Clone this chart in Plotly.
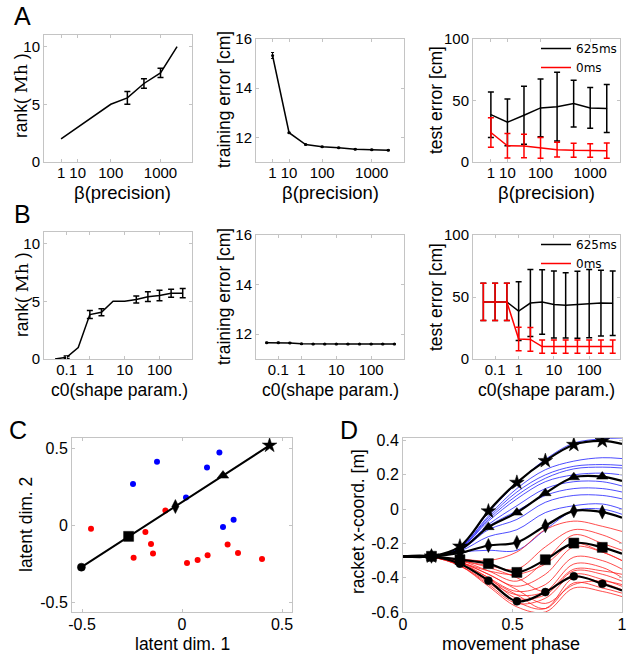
import plotly.graph_objects as go

# ---------------- data ----------------
beta_values = [1, 10, 50, 100, 200, 500, 1000, 2000]
beta_ticks = [1, 10, 100, 1000]
c0_values = [0.05, 0.1, 0.5, 1, 2, 5, 10, 20, 50, 100, 200, 500]
c0_ticks = [0.1, 1, 10, 100]

rankA = [2.0, 3.0, 4.0, 5.0, 5.55, 6.8, 7.72, 10.0]
rankA_err = [0, 0, 0, 0, 0.55, 0.42, 0.4, 0]
trainA = [15.33, 12.19, 11.71, 11.62, 11.58, 11.52, 11.5, 11.48]
trainA_err = [0.12, 0.02, 0.02, 0.02, 0.02, 0.02, 0.02, 0.02]
testA_625 = [38.5, 32.3, 38.0, 44.0, 45.0, 47.5, 44.0, 43.5]
testA_625_err = [18.5, 19.0, 23.5, 23.5, 28.0, 19.0, 16.5, 19.5]
testA_0 = [24.0, 13.2, 13.0, 11.5, 10.0, 9.5, 9.3, 9.2]
testA_0_err = [12.0, 10.0, 9.5, 8.5, 6.0, 5.7, 5.5, 6.2]

rankB = [0.0, 0.15, 1.0, 3.85, 4.05, 5.0, 5.0, 5.15, 5.4, 5.5, 5.7, 5.7]
rankB_err = [0, 0.1, 0, 0.35, 0.3, 0, 0, 0.3, 0.42, 0.45, 0.35, 0.4]
trainB = [11.66, 11.66, 11.65, 11.61, 11.6, 11.6, 11.6, 11.6, 11.6, 11.6, 11.6, 11.6]
trainB_err = [0.02] * 12
testB_625 = [46.0, 46.0, 46.0, 38.6, 45.1, 46.0, 44.0, 43.3, 43.8, 44.6, 45.1, 44.9]
testB_625_err = [15.0, 15.0, 15.0, 23.6, 27.0, 26.0, 27.0, 26.3, 27.0, 27.5, 26.5, 26.0]
testB_0 = [46.0, 46.0, 46.0, 16.2, 15.8, 10.0, 10.0, 10.0, 10.0, 10.0, 10.0, 10.0]
testB_0_err = [15.0, 15.0, 15.0, 9.5, 9.6, 5.4, 5.4, 5.4, 5.4, 5.4, 5.4, 5.4]

# panel C
path_x = [-0.503, -0.267, -0.033, 0.205, 0.438]
path_y = [-0.27, -0.071, 0.122, 0.322, 0.517]
path_symbols = ['circle', 'square', 'diamond-tall', 'triangle-up', 'star']
path_sizes = [8, 10, 10, 10, 11]
blue_x = [-0.245, -0.125, 0.02, 0.125, 0.187, 0.205, 0.258]
blue_y = [0.268, 0.412, 0.18, 0.375, 0.472, -0.011, 0.036]
red_x = [-0.455, -0.183, -0.155, -0.145, -0.242, -0.083, 0.025, 0.078, 0.128, 0.228, 0.28, 0.4]
red_y = [-0.021, -0.043, -0.12, -0.182, -0.21, 0.097, -0.243, -0.223, -0.193, -0.124, -0.178, -0.217]
latent_ticks = [-0.5, 0, 0.5]

# panel D
phase = [0, 0.13, 0.26, 0.39, 0.52, 0.65, 0.78, 0.91, 1.0]
black_curves = {
    'star':        [-0.275, -0.275, -0.217, -0.012, 0.155, 0.282, 0.376, 0.398, 0.38],
    'triangle-up': [-0.275, -0.275, -0.237, -0.105, -0.02, 0.093, 0.186, 0.19, 0.165],
    'diamond-tall':[-0.275, -0.275, -0.256, -0.212, -0.194, -0.097, -0.01, -0.017, -0.05],
    'square':      [-0.275, -0.275, -0.295, -0.318, -0.369, -0.295, -0.198, -0.223, -0.26],
    'circle':      [-0.275, -0.275, -0.318, -0.417, -0.538, -0.484, -0.392, -0.435, -0.474],
}
black_sizes = {'star': 11, 'triangle-up': 10, 'diamond-tall': 10, 'square': 10, 'circle': 8}
blue_curves = [
    [-0.275, -0.275, -0.22, -0.02, 0.15, 0.29, 0.385, 0.41, 0.415],
    [-0.275, -0.275, -0.225, -0.04, 0.12, 0.23, 0.28, 0.30, 0.295],
    [-0.275, -0.275, -0.225, -0.05, 0.10, 0.20, 0.25, 0.26, 0.255],
    [-0.275, -0.275, -0.23, -0.06, 0.08, 0.18, 0.235, 0.245, 0.24],
    [-0.275, -0.275, -0.23, -0.07, 0.06, 0.16, 0.20, 0.21, 0.20],
    [-0.275, -0.275, -0.235, -0.09, 0.02, 0.12, 0.16, 0.16, 0.135],
    [-0.275, -0.275, -0.24, -0.10, -0.01, 0.08, 0.12, 0.12, 0.10],
    [-0.275, -0.275, -0.24, -0.12, -0.06, 0.04, 0.08, 0.08, 0.06],
    [-0.275, -0.275, -0.245, -0.16, -0.12, -0.02, 0.02, 0.03, 0.0],
    [-0.275, -0.275, -0.25, -0.24, -0.24, -0.12, -0.01, 0.0, -0.03],
]
red_curves = [
    [-0.28, -0.28, -0.29, -0.30, -0.25, -0.12, -0.07, -0.10, -0.13],
    [-0.28, -0.28, -0.30, -0.33, -0.35, -0.22, -0.12, -0.15, -0.20],
    [-0.28, -0.28, -0.30, -0.36, -0.42, -0.30, -0.15, -0.20, -0.24],
    [-0.28, -0.28, -0.31, -0.38, -0.45, -0.38, -0.22, -0.25, -0.30],
    [-0.28, -0.28, -0.31, -0.40, -0.48, -0.44, -0.28, -0.30, -0.35],
    [-0.28, -0.28, -0.32, -0.42, -0.50, -0.48, -0.32, -0.34, -0.40],
    [-0.28, -0.28, -0.32, -0.40, -0.52, -0.50, -0.36, -0.38, -0.42],
    [-0.28, -0.28, -0.33, -0.44, -0.55, -0.52, -0.38, -0.41, -0.45],
    [-0.28, -0.28, -0.33, -0.43, -0.54, -0.58, -0.40, -0.43, -0.47],
    [-0.28, -0.28, -0.32, -0.41, -0.50, -0.58, -0.43, -0.46, -0.49],
    [-0.28, -0.28, -0.33, -0.45, -0.57, -0.60, -0.46, -0.48, -0.51],
    [-0.28, -0.28, -0.31, -0.36, -0.38, -0.32, -0.20, -0.25, -0.30],
    [-0.28, -0.28, -0.30, -0.34, -0.40, -0.48, -0.35, -0.36, -0.38],
    [-0.28, -0.28, -0.31, -0.38, -0.47, -0.55, -0.44, -0.42, -0.44],
]
phase_ticks = [0, 0.5, 1]
racket_ticks = [-0.6, -0.4, -0.2, 0, 0.2, 0.4]

# ---------------- figure ----------------
W, H = 632, 656
SANS = 'Liberation Sans'
fig = go.Figure()

def xd(a, b):
    return [a / W, b / W]

def yd(top, bot):
    return [1 - bot / H, 1 - top / H]

BOX = '#c4c4c4'

def axis(dom, rng, tickvals, ticktext, fs_tick, standoff):
    return dict(domain=dom, range=rng, tickvals=tickvals, ticktext=ticktext,
                showline=True, linecolor=BOX, linewidth=1, mirror='ticks',
                ticks='inside', ticklen=3, tickcolor=BOX, showgrid=False, zeroline=False,
                tickfont=dict(family=SANS, size=fs_tick, color='black'),
                ticklabelstandoff=standoff, automargin=False)

idxA = list(range(len(beta_values)))
idxB = list(range(len(c0_values)))
tvA = [beta_values.index(v) for v in beta_ticks]
ttA = [f'{v:g}' for v in beta_ticks]
tvB = [c0_values.index(v) for v in c0_ticks]
ttB = [f'{v:g}' for v in c0_ticks]

layout = {}
cols = [(44, 192), (256, 404), (473, 620)]
# row A
layout['xaxis'] = axis(xd(*cols[0]), [-1.03, 7.9], tvA, ttA, 15, -3)
layout['yaxis'] = axis(yd(35, 162), [0, 11], [0, 5, 10], ['0', '5', '10'], 15, 0)
layout['xaxis2'] = axis(xd(*cols[1]), [-1.0, 7.95], tvA, ttA, 15, -3)
layout['yaxis2'] = axis(yd(39, 162), [11, 16], [12, 14, 16], ['12', '14', '16'], 15, 0)
layout['xaxis3'] = axis(xd(*cols[2]), [-1.08, 7.8], tvA, ttA, 15, -3)
layout['yaxis3'] = axis(yd(39, 162), [0, 100], [0, 50, 100], ['0', '50', '100'], 15, 0)
# row B
layout['xaxis4'] = axis(xd(*cols[0]), [-0.95, 11.8], tvB, ttB, 15, -3)
layout['yaxis4'] = axis(yd(232, 359), [0, 11], [0, 5, 10], ['0', '5', '10'], 15, 0)
layout['xaxis5'] = axis(xd(*cols[1]), [-0.92, 11.83], tvB, ttB, 15, -3)
layout['yaxis5'] = axis(yd(235, 359), [11, 16], [12, 14, 16], ['12', '14', '16'], 15, 0)
layout['xaxis6'] = axis(xd(*cols[2]), [-0.88, 11.62], tvB, ttB, 15, -3)
layout['yaxis6'] = axis(yd(235, 359), [0, 100], [0, 50, 100], ['0', '50', '100'], 15, 0)
# C
layout['xaxis7'] = axis(xd(72, 292), [-0.55, 0.55], latent_ticks, [f'{v:g}' for v in latent_ticks], 16, -2)
layout['yaxis7'] = axis(yd(438, 612), [-0.56, 0.565], latent_ticks, [f'{v:g}' for v in latent_ticks], 16, 0)
# D
layout['xaxis8'] = axis(xd(403, 622), [0, 1], phase_ticks, [f'{v:g}' for v in phase_ticks], 16, -2)
layout['yaxis8'] = axis(yd(438, 612), [-0.6, 0.415], racket_ticks, [f'{v:g}' for v in racket_ticks], 16, 0)

for i in range(1, 9):
    s = '' if i == 1 else str(i)
    layout['xaxis' + s]['anchor'] = 'y' + s
    layout['yaxis' + s]['anchor'] = 'x' + s

def ax(i):
    s = '' if i == 1 else str(i)
    return dict(xaxis='x' + s, yaxis='y' + s)

LW = 1.5

def rank_panel(i, idx, vals, errs):
    fig.add_trace(go.Scatter(x=idx, y=vals, mode='lines', line=dict(color='black', width=LW),
                             showlegend=False, **ax(i)))
    sel = [k for k, e in enumerate(errs) if e > 0]
    fig.add_trace(go.Scatter(x=[idx[k] for k in sel], y=[vals[k] for k in sel], mode='markers',
                             marker=dict(size=1, color='black'),
                             error_y=dict(type='data', array=[errs[k] for k in sel], color='black',
                                          thickness=LW, width=3),
                             showlegend=False, **ax(i)))

def train_panel(i, idx, vals, errs):
    fig.add_trace(go.Scatter(x=idx, y=vals, mode='lines+markers', line=dict(color='black', width=LW),
                             marker=dict(size=3, color='black'),
                             error_y=dict(type='data', array=errs, color='black', thickness=1, width=1.5),
                             showlegend=False, **ax(i)))

def test_panel(i, idx, v625, e625, v0, e0, leg):
    for vals, errs, col, name in [(v625, e625, 'black', '625ms'), (v0, e0, 'red', '0ms')]:
        fig.add_trace(go.Scatter(x=idx, y=vals, mode='markers', marker=dict(size=1, color=col),
                                 error_y=dict(type='data', array=errs, color=col, thickness=LW, width=3),
                                 showlegend=False, **ax(i)))
        fig.add_trace(go.Scatter(x=idx, y=vals, mode='lines', name=name, legend=leg,
                                 line=dict(color=col, width=LW), **ax(i)))

rank_panel(1, idxA, rankA, rankA_err)
train_panel(2, idxA, trainA, trainA_err)
test_panel(3, idxA, testA_625, testA_625_err, testA_0, testA_0_err, 'legend')
rank_panel(4, idxB, rankB, rankB_err)
train_panel(5, idxB, trainB, trainB_err)
test_panel(6, idxB, testB_625, testB_625_err, testB_0, testB_0_err, 'legend2')

# C
fig.add_trace(go.Scatter(x=blue_x, y=blue_y, mode='markers',
                         marker=dict(color='#0000ff', size=6, line=dict(width=0)),
                         showlegend=False, **ax(7)))
fig.add_trace(go.Scatter(x=red_x, y=red_y, mode='markers',
                         marker=dict(color='#ff0000', size=6, line=dict(width=0)),
                         showlegend=False, **ax(7)))
fig.add_trace(go.Scatter(x=path_x, y=path_y, mode='lines+markers', line=dict(color='black', width=2),
                         marker=dict(color='black', symbol=path_symbols, size=path_sizes, opacity=1,
                                     line=dict(color='black', width=0.5)),
                         showlegend=False, **ax(7)))

# D
for c in blue_curves:
    fig.add_trace(go.Scatter(x=phase, y=c, mode='lines', line=dict(color='#2020ff', width=0.8, shape='spline'),
                             showlegend=False, **ax(8)))
for c in red_curves:
    fig.add_trace(go.Scatter(x=phase, y=c, mode='lines', line=dict(color='#ff2020', width=0.8, shape='spline'),
                             showlegend=False, **ax(8)))
for sym, c in black_curves.items():
    sizes = [0] + [black_sizes[sym]] * (len(phase) - 2) + [0]
    fig.add_trace(go.Scatter(x=phase, y=c, mode='lines+markers',
                             line=dict(color='black', width=2.2, shape='spline'),
                             marker=dict(color='black', symbol=sym, size=sizes, opacity=1,
                                         line=dict(color='black', width=0.5)),
                             showlegend=False, **ax(8)))

leg_common = dict(xanchor='right', yanchor='top', bgcolor='rgba(0,0,0,0)',
                  font=dict(family='DejaVu Sans', size=12, color='black'),
                  itemwidth=30, tracegroupgap=0)
layout['legend'] = dict(x=622 / W, y=1 - 34 / H, **leg_common)
layout['legend2'] = dict(x=622 / W, y=1 - 230 / H, **leg_common)

annotations = []
def label(text, px, py, size, angle=0):
    annotations.append(dict(text=text, x=px / W, y=1 - py / H, xref='paper', yref='paper',
                            showarrow=False, xanchor='center', yanchor='middle', textangle=angle,
                            font=dict(family=SANS, size=size, color='black')))

for letter, px, py in [('A', 22, 16), ('B', 22, 214), ('C', 18, 430), ('D', 349, 430)]:
    label(letter, px, py, 25)

rank_title = "rank( <span style='font-family:DejaVu Serif'>Mh</span> )"
# axis titles
label('β(precision)', 122, 192, 18.5)
label('β(precision)', 330, 192, 18.5)
label('β(precision)', 546, 192, 18.5)
label('c0(shape param.)', 119, 390, 17.5)
label('c0(shape param.)', 330, 390, 17.5)
label('c0(shape param.)', 546, 390, 17.5)
label(rank_title, 21, 95, 17.5, -90)
label('training error [cm]', 224, 100, 17.5, -90)
label('test error [cm]', 436, 100, 17.5, -90)
label(rank_title, 22, 295, 17.5, -90)
label('training error [cm]', 224, 297, 17.5, -90)
label('test error [cm]', 436, 297, 17.5, -90)
label('latent dim. 1', 182, 644, 17.5)
label('latent dim. 2', 26, 525, 17.5, -90)
label('movement phase', 511, 644, 18)
label('racket x-coord. [m]', 358, 522, 17.5, -90)

fig.update_layout(width=W, height=H, margin=dict(l=0, r=0, t=0, b=0),
                  paper_bgcolor='white', plot_bgcolor='white',
                  annotations=annotations, **layout)

fig.write_html('out.html', config={'displayModeBar': False},
               post_script="document.body.style.margin='0';document.body.style.overflow='hidden';")
